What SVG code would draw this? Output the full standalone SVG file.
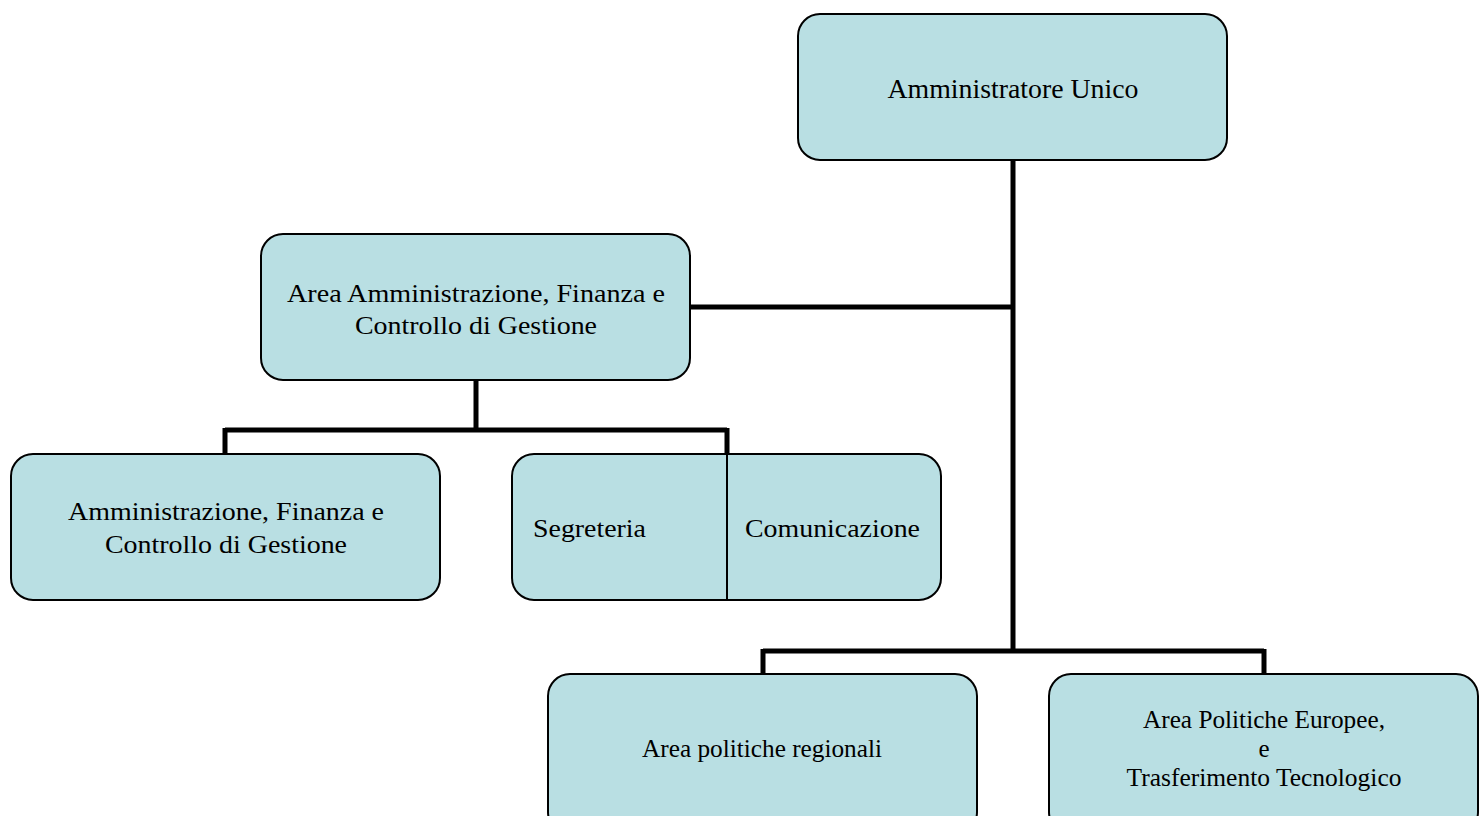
<svg xmlns="http://www.w3.org/2000/svg" width="1481" height="816" viewBox="0 0 1481 816">
<style>
.box{fill:#b9dfe3;stroke:#000;stroke-width:2}
.t{font-family:"Liberation Serif","Times New Roman",serif;font-size:26px;fill:#000;text-anchor:middle}
.big{font-size:27px}
.s{font-size:25px}
.c{fill:none;stroke:#000;stroke-width:5;stroke-linecap:butt}
</style>
<rect width="1481" height="816" fill="#fff"/>
<g id="connectors">
<path class="c" d="M1013 160V651"/>
<path class="c" d="M690 307H1013"/>
<path class="c" d="M476 380V430M225 430H727M225 428V454M727 428V454"/>
<path class="c" d="M763 651H1264M763 649V674M1264 649V674"/>
</g>
<g id="n-amministratore">
<rect class="box" x="798" y="14" width="429" height="146" rx="22"/>
<text class="t big" x="1013" y="98" textLength="251" lengthAdjust="spacingAndGlyphs">Amministratore Unico</text>
</g>
<g id="n-area-amm">
<rect class="box" x="261" y="234" width="429" height="146" rx="22"/>
<text class="t" x="476" y="302" textLength="378" lengthAdjust="spacingAndGlyphs">Area Amministrazione, Finanza e</text>
<text class="t" x="476" y="334" textLength="242" lengthAdjust="spacingAndGlyphs">Controllo di Gestione</text>
</g>
<g id="n-amm">
<rect class="box" x="11" y="454" width="429" height="146" rx="22"/>
<text class="t" x="226" y="520" textLength="316" lengthAdjust="spacingAndGlyphs">Amministrazione, Finanza e</text>
<text class="t" x="226" y="553" textLength="242" lengthAdjust="spacingAndGlyphs">Controllo di Gestione</text>
</g>
<g id="n-segr-com">
<rect class="box" x="512" y="454" width="429" height="146" rx="22"/>
<line x1="727" y1="454" x2="727" y2="600" stroke="#000" stroke-width="2"/>
<text class="t" x="589.5" y="537" textLength="113" lengthAdjust="spacingAndGlyphs">Segreteria</text>
<text class="t" x="832.5" y="537" textLength="175" lengthAdjust="spacingAndGlyphs">Comunicazione</text>
</g>
<g id="n-regionali">
<rect class="box" x="548" y="674" width="429" height="160" rx="22"/>
<text class="t s" x="762" y="757" textLength="240" lengthAdjust="spacingAndGlyphs">Area politiche regionali</text>
</g>
<g id="n-europee">
<rect class="box" x="1049" y="674" width="429" height="160" rx="22"/>
<text class="t s" x="1264" y="728" textLength="242" lengthAdjust="spacingAndGlyphs">Area Politiche Europee,</text>
<text class="t s" x="1264" y="757">e</text>
<text class="t s" x="1264" y="786" textLength="275" lengthAdjust="spacingAndGlyphs">Trasferimento Tecnologico</text>
</g>
</svg>
